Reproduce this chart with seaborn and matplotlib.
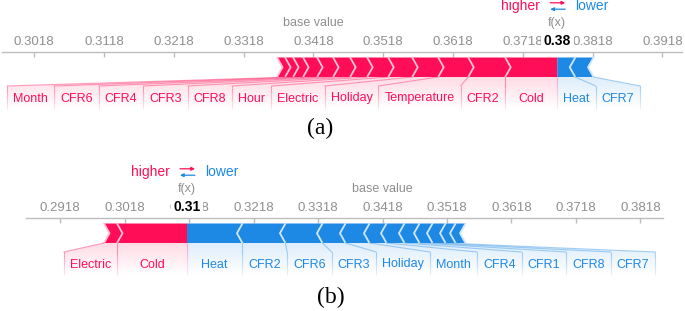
import numpy as np
import pandas as pd
import matplotlib
matplotlib.use("Agg")
import matplotlib.pyplot as plt
from matplotlib.patches import Polygon
from matplotlib.collections import LineCollection
from matplotlib.colors import to_rgba, to_rgb
import seaborn as sns

# ---------------- data ----------------
BASE_VALUE = 0.3418

# panel (a): features listed outward from f(x)
a_pos_features = ["Cold", "CFR2", "Temperature", "Holiday", "Electric", "Hour",
                  "CFR8", "CFR3", "CFR4", "CFR6", "Month", "CFR1", "CFR5"]
a_pos_values = [0.00745, 0.00530, 0.00430, 0.00372, 0.00344, 0.00301,
                0.00244, 0.00244, 0.00229, 0.00201, 0.00143, 0.00115, 0.00115]
a_neg_features = ["Heat", "CFR7"]
a_neg_values = [-0.00258, -0.00262]

# panel (b)
b_pos_features = ["Cold", "Electric"]
b_pos_values = [0.01085, 0.00202]
b_neg_features = ["Heat", "CFR2", "CFR6", "CFR3", "Holiday", "Month", "CFR4",
                  "CFR1", "CFR8", "CFR7", "Hour", "Temperature"]
b_neg_values = [-0.00860, -0.00667, -0.00574, -0.00357, -0.00372, -0.00264,
                -0.00279, -0.00233, -0.00202, -0.00202, -0.00155, -0.00155]

a_xlim = (0.2972, 0.3946)
b_xlim = (0.2865, 0.3853)
panel_tags = ["(a)", "(b)"]

# ---------------- style ----------------
sns.set_theme(style="white")
plt.rcParams['font.family'] = ['Liberation Sans', 'DejaVu Sans']

RED = "#FF0D57"
BLUE = "#1E88E5"
RED_LIGHT = "#FFC3D5"
BLUE_LIGHT = "#D1E6FA"
GREY = "#8f8f8f"
AXIS_GREY = "#bdbdbd"

W, H = 685, 311
fig = plt.figure(figsize=(W / 100, H / 100), dpi=100)
renderer = fig.canvas.get_renderer()


def fade_vline(ax, x, y_top, y_bot, color, a0, n=10, lw=0.8):
    ys = np.linspace(y_top, y_bot, n + 1)
    segs = [[(x, ys[k]), (x, ys[k + 1])] for k in range(n)]
    cols = [to_rgba(color, a0 * (1 - 0.8 * k / n)) for k in range(n)]
    ax.add_collection(LineCollection(segs, colors=cols, linewidths=lw, zorder=3))


def draw_force(ax, pos_f, pos_v, neg_f, neg_v, xlim):
    AH = 112
    y0 = 52
    ax.set_autoscale_on(False)
    ax.set_xlim(*xlim)
    ax.set_ylim(AH, 0)
    ppu = ax.bbox.width / (xlim[1] - xlim[0])

    def px(p):
        return p / ppu

    bar_t, bar_b = y0 + 5.5, y0 + 25
    mid = (bar_t + bar_b) / 2
    lab_t, lab_txt, lab_b = y0 + 34, y0 + 46.5, y0 + 57
    d = px(5.5)
    fx = BASE_VALUE + sum(pos_v) + sum(neg_v)
    total = sum(abs(v) for v in list(pos_v) + list(neg_v))
    thr = total / 35

    # ---- bars ----
    edges_p = fx - np.concatenate([[0], np.cumsum(pos_v)])
    for i, v in enumerate(pos_v):
        xr, xl = edges_p[i], edges_p[i + 1]
        if i == 0:
            pts = [(xl, bar_t), (xr, bar_t), (xr, bar_b), (xl, bar_b), (xl + d, mid)]
        else:
            pts = [(xl, bar_t), (xr, bar_t), (xr + d, mid), (xr, bar_b), (xl, bar_b), (xl + d, mid)]
        ax.add_patch(Polygon(pts, closed=True, fc=RED, ec='none', zorder=2))
    for x in edges_p[1:]:
        ax.plot([x, x + d, x], [bar_t, mid, bar_b], color=RED_LIGHT, lw=1.3, zorder=3)

    edges_n = fx + np.concatenate([[0], np.cumsum(np.abs(neg_v))])
    for i, v in enumerate(neg_v):
        xl, xr = edges_n[i], edges_n[i + 1]
        if i == 0:
            pts = [(xl, bar_t), (xr, bar_t), (xr - d, mid), (xr, bar_b), (xl, bar_b)]
        else:
            pts = [(xl, bar_t), (xr, bar_t), (xr - d, mid), (xr, bar_b), (xl, bar_b), (xl - d, mid)]
        ax.add_patch(Polygon(pts, closed=True, fc=BLUE, ec='none', zorder=2))
    for x in edges_n[1:]:
        ax.plot([x, x - d, x], [bar_t, mid, bar_b], color=BLUE_LIGHT, lw=1.3, zorder=3)

    # ---- labels with fans ----
    def labels(names, vals, edges, sign, color):
        cur = fx
        grad = np.zeros((64, 1, 4))
        grad[..., :3] = to_rgb(color)
        grad[:, 0, 3] = np.linspace(0.15, 0.0, 64)
        for i, (n, v) in enumerate(zip(names, vals)):
            if abs(v) < thr:
                continue
            t = ax.text(0, lab_txt, n, color=color, fontsize=9, ha='center',
                        va='center', zorder=4)
            w = t.get_window_extent(renderer).width
            bw = max(px(w + 12), abs(v))
            outer = cur + sign * bw
            t.set_x((cur + outer) / 2)
            bar_in, bar_out = edges[i], edges[i + 1]
            poly = [(bar_in, bar_b), (bar_out, bar_b), (outer, lab_t),
                    (outer, lab_b), (cur, lab_b), (cur, lab_t)]
            im = ax.imshow(grad, extent=(xlim[0], xlim[1], lab_b, bar_b),
                           origin='upper', aspect='auto', zorder=1,
                           interpolation='bilinear')
            patch = Polygon(poly, closed=True, transform=ax.transData,
                            fc='none', ec='none')
            im.set_clip_path(patch)
            ax.plot([bar_out, outer], [bar_b, lab_t], color=to_rgba(color, 0.38),
                    lw=0.8, zorder=3)
            fade_vline(ax, outer, lab_t, lab_b, color, 0.38)
            cur = outer

    labels(pos_f, pos_v, edges_p, -1, RED)
    labels(neg_f, neg_v, edges_n, +1, BLUE)
    fade_vline(ax, fx, bar_b, lab_b, RED, 0.3)
    ax.set_xlim(*xlim)
    ax.set_ylim(AH, 0)

    # ---- axis ----
    ticks = BASE_VALUE + 0.01 * np.arange(-10, 11)
    ticks = ticks[(ticks > xlim[0]) & (ticks < xlim[1])]
    ax.set_xticks(ticks)
    ax.set_xticklabels([f"{t:.4f}" for t in ticks])
    ax.xaxis.tick_top()
    ax.spines['top'].set_position(('data', y0))
    for s in ['left', 'right', 'bottom']:
        ax.spines[s].set_visible(False)
    ax.spines['top'].set_color(AXIS_GREY)
    ax.spines['top'].set_linewidth(1.0)
    ax.tick_params(axis='x', direction='in', length=3.5, width=1, color=AXIS_GREY,
                   labelcolor=GREY, labelsize=9.5, pad=3)
    ax.set_yticks([])
    ax.set_facecolor('none')
    ax.grid(False)

    # ---- texts ----
    ax.text(BASE_VALUE, y0 - 29, "base value", color=GREY, fontsize=9,
            ha='center', va='center')
    ax.text(fx, y0 - 29, "f(x)", color=GREY, fontsize=9, ha='center', va='center')
    ax.text(fx, y0 - 11, f"{fx:.2f}", color='black', fontsize=10, fontweight='bold',
            ha='center', va='center', zorder=6,
            bbox=dict(boxstyle='square,pad=0.2', fc='white', ec='none'))

    ly = y0 - 46
    ax.text(fx - px(17), ly, "higher", color=RED, fontsize=10, ha='right', va='center')
    ax.text(fx + px(18), ly, "lower", color=BLUE, fontsize=10, ha='left', va='center')
    ax.annotate('', xy=(fx + px(8), ly - 3.2), xytext=(fx - px(7), ly - 3.2),
                arrowprops=dict(arrowstyle='-|>', color=RED, lw=0.9,
                                mutation_scale=5, shrinkA=0, shrinkB=0))
    ax.annotate('', xy=(fx - px(7), ly + 3.2), xytext=(fx + px(8), ly + 3.2),
                arrowprops=dict(arrowstyle='-|>', color=BLUE, lw=0.9,
                                mutation_scale=5, shrinkA=0, shrinkB=0))


ax_a = fig.add_axes([2 / W, 1 - 112 / H, 680 / W, 112 / H])
ax_b = fig.add_axes([26 / W, 1 - (166 + 112) / H, 637 / W, 112 / H])

draw_force(ax_a, a_pos_features, a_pos_values, a_neg_features, a_neg_values, a_xlim)
draw_force(ax_b, b_pos_features, b_pos_values, b_neg_features, b_neg_values, b_xlim)

serif = ['Liberation Serif', 'DejaVu Serif']
fig.text(320 / W, 1 - 128 / H, panel_tags[0], family=serif, fontsize=17,
         ha='center', va='center', color='black')
fig.text(331 / W, 1 - 297 / H, panel_tags[1], family=serif, fontsize=17,
         ha='center', va='center', color='black')

fig.savefig("out.png", dpi=100)
